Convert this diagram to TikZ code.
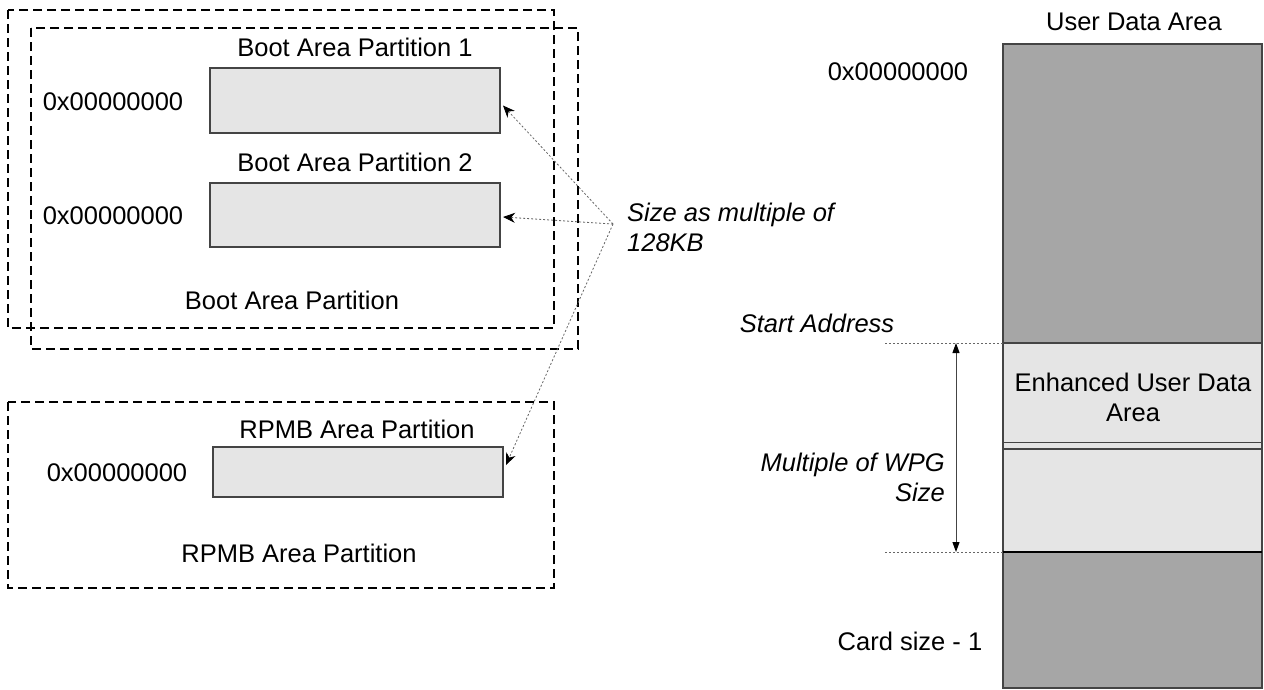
\documentclass[tikz,border=0pt]{standalone}
\usepackage{fontspec}
\setmainfont{Liberation Sans}
\usetikzlibrary{arrows.meta}

\definecolor{partgray}{HTML}{E5E5E5}
\definecolor{usergray}{HTML}{A6A6A6}
\definecolor{edgegray}{HTML}{444444}

\tikzset{
  lbl/.style={font=\fontsize{25.5}{30}\selectfont, inner sep=0pt},
  ilbl/.style={lbl, font=\fontsize{25.5}{30}\selectfont\itshape},
  partbox/.style={draw=edgegray, line width=1.2pt, fill=partgray, inner sep=0pt, outer sep=0pt, minimum width=290pt},
  areabox/.style={draw, line width=2pt, dash pattern=on 9pt off 5pt},
  sizearrow/.style={draw=gray!80!black, line width=0.8pt, dash pattern=on 2pt off 2pt, -{Stealth[length=12pt,width=10pt,color=black]}},
  guide/.style={draw=gray!80!black, line width=0.8pt, dash pattern=on 2pt off 2pt}
}

\begin{document}
\begin{tikzpicture}[x=1pt, y=-1pt]
        \useasboundingbox[fill=white] (0,0) rectangle (1264,689);

        % boot area partitions
        \draw[areabox] (8,10) rectangle (554,328);
        \draw[areabox] (31,28) rectangle (578,349);
        \node[lbl] (boot1lbl) at (355,47) {Boot Area Partition 1};
        \node[partbox, minimum height=65pt] (boot1) at (355,100.5) {};
        \node[lbl] (boot1addr) at (113,102) {0x00000000};
        \node[lbl] (boot2lbl) at (355,162) {Boot Area Partition 2};
        \node[partbox, minimum height=64pt] (boot2) at (355,215) {};
        \node[lbl] (boot2addr) at (113,216) {0x00000000};
        \node[lbl] (bootlbl) at (292,300) {Boot Area Partition};

        % rpmb area partition
        \draw[areabox] (8,402) rectangle (554,588);
        \node[lbl] (rpmblbl) at (357,429) {RPMB Area Partition};
        \node[partbox, minimum height=50pt] (rpmb) at (358,472) {};
        \node[lbl] (rpmbaddr) at (117,473) {0x00000000};
        \node[lbl] (rpmbarea) at (299,553) {RPMB Area Partition};

        % size note
        \coordinate (src) at (613,224);
        \node[ilbl, anchor=west, align=left] (sizelbl) at (627,227) {Size as multiple of\\128KB};
        \draw[sizearrow] (src) -- ([xshift=3pt,yshift=-5pt]boot1.east);
        \draw[sizearrow] (src) -- ([xshift=3pt,yshift=-2pt]boot2.east);
        \draw[sizearrow] (src) -- ([xshift=3pt,yshift=7pt]rpmb.east);

        % user data area
        \node[lbl] (userlbl) at (1134,22) {User Data Area};
        \draw[draw=edgegray, line width=1.2pt, fill=usergray] (1003,44) rectangle (1262,343);
        \draw[draw=edgegray, line width=1.2pt, fill=partgray] (1003,343) rectangle (1262,552);
        \draw[draw=edgegray, line width=1.2pt, fill=usergray] (1003,552) rectangle (1262,688);
        \draw[draw=edgegray, line width=0.6pt] (1003,442) -- (1262,442);
        \draw[draw=edgegray, line width=1.2pt] (1003,449) -- (1262,449);
        \draw[draw=black, line width=1.6pt] (1003,552) -- (1262,552);
        \node[lbl, align=center] (enhlbl) at (1133,397) {Enhanced User Data\\Area};
        \node[lbl] (startaddr) at (898,72) {0x00000000};
        \node[lbl] (cardsize) at (910,641) {Card size - 1};

        % enhanced area extent
        \node[ilbl] (startlbl) at (817,323) {Start Address};
        \coordinate (enhtop) at (956,343);
        \coordinate (enhbot) at (956,552);
        \draw[guide] (885,343) -- (1003,343);
        \draw[guide] (885,552) -- (1003,552);
        \draw[draw=edgegray, line width=1pt, {Triangle[length=10pt,width=7pt,color=black]}-{Triangle[length=10pt,width=7pt,color=black]}] (enhtop) -- (enhbot);
        \node[ilbl, anchor=east, align=right] (wpglbl) at (945,477) {Multiple of WPG\\Size};
    \end{tikzpicture}
\end{document}
